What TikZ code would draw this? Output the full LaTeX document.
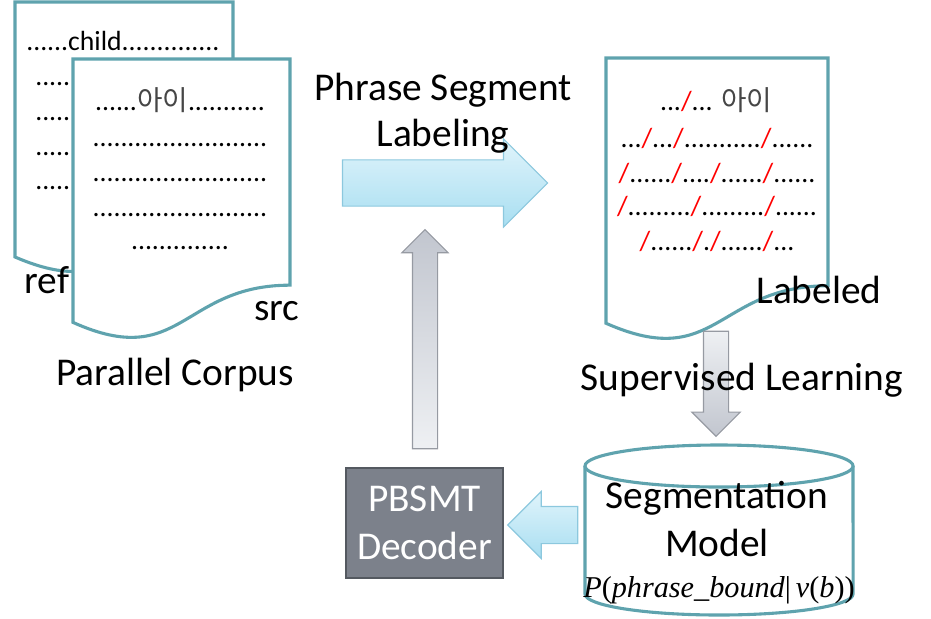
\documentclass[tikz,border=0pt]{standalone}
\usepackage{fontspec}
\setmainfont{Carlito}
\newfontfamily\krfont{Noto Sans CJK KR}
\newfontfamily\timesfont{Liberation Serif}
\usetikzlibrary{shapes.arrows,positioning}

\definecolor{docline}{RGB}{95,163,174}
\definecolor{blueedge}{RGB}{140,200,222}
\definecolor{bluetop}{RGB}{224,244,251}
\definecolor{bluebot}{RGB}{168,222,241}
\definecolor{grayedge}{RGB}{150,154,162}
\definecolor{graydark}{RGB}{194,198,207}
\definecolor{graylight}{RGB}{238,240,243}
\definecolor{boxfill}{RGB}{124,129,139}
\definecolor{boxedge}{RGB}{84,89,96}
\definecolor{krgray}{RGB}{70,70,70}

\newcommand\redslash{\textcolor{red}{/}}
\newcommand\kr[1]{{\krfont\color{krgray}#1}}
% document page: left, right, top, height
\newcommand\docpage[4]{%
  \draw[doc] (#1,#3) -- (#2,#3) -- (#2,#3+0.802*#4)
    .. controls ({(#1+#2)/2},#3+0.802*#4) and ({(#1+#2)/2},#3+1.107*#4) .. (#1,#3+0.934*#4) -- cycle;}

\tikzset{
  doc/.style={draw=docline, line width=2.2pt, fill=white},
  big/.style={font=\fontsize{28}{34}\selectfont, inner sep=0pt, anchor=base},
  dots/.style={font=\fontsize{19.7}{24}\selectfont, inner sep=0pt, anchor=base},
  bluearrow/.style={single arrow, draw=blueedge, line width=0.8pt,
    top color=bluetop, bottom color=bluebot},
  grayarrow/.style={single arrow, draw=grayedge, line width=0.8pt},
  decoder/.style={draw=boxedge, line width=1.5pt, fill=boxfill, text=white,
    font=\fontsize{28}{34}\selectfont, align=center,
    minimum width=3.925cm, minimum height=2.75cm},
}

\begin{document}
\begin{tikzpicture}[x=0.025cm, y=-0.025cm]
  \useasboundingbox (0,0) rectangle (931,618);

  % parallel corpus
  \docpage{15}{233}{2}{273}
  \node[dots] (ref1) at (123,50) {......child..............};
  \foreach \y in {85,120,155,189}
    \node[dots, anchor=base west] (ref\y) at (35,\y) {.....};
  \node[big] (ref) at (47,293) {ref};
  \docpage{73}{290}{59}{282}
  \node[dots] (src1) at (180,110) {......\kr{아이}...........};
  \foreach \y in {146,181,216}
    \node[dots] (src\y) at (180,\y) {.........................};
  \node[dots] (src5) at (180,249) {..............};
  \node[big] (src) at (277,320) {src};
  \node[big] (corpus) at (175,385) {Parallel Corpus};

  % labeled corpus
  \docpage{606}{828}{58}{284}
  \node[dots] (lab1) at (716,110) {...\redslash... \kr{아이}};
  \node[dots] (lab2) at (717,147) {...\redslash...\redslash...........\redslash......};
  \node[dots] (lab3) at (717,182) {\redslash......\redslash....\redslash......\redslash......};
  \node[dots] (lab4) at (717,215) {\redslash.........\redslash.........\redslash......};
  \node[dots] (lab5) at (717,250) {\redslash......\redslash.\redslash......\redslash...};
  \node[big] (labeled) at (819,303) {Labeled};

  % segmentation model
  \fill[white] (585,466) rectangle (853,594);
  \draw[doc] (585,466) -- (585,594) arc[start angle=180, end angle=360, x radius=3.35cm, y radius=0.525cm] -- (853,466);
  \draw[doc] (719,466) ellipse [x radius=3.35cm, y radius=0.525cm];
  \node[big] (model1) at (717,508) {Segmentation};
  \node[big] (model2) at (717,556) {Model};
  \node[inner sep=0pt, anchor=base, font=\fontsize{21.5}{26}\selectfont\timesfont] (prob) at (719,597)
    {\itshape P\upshape(\itshape phrase\_bound\upshape|\,\itshape v\upshape(\itshape b\upshape))};

  % decoder
  \node[decoder] (decoder) at (424.5,523) {PBSMT\\Decoder};

  % arrows
  \node[bluearrow, minimum height=5.125cm, inner sep=0.5625cm,
    single arrow head extend=0.525cm] (labeling) at (433.5,183) {};
  \node[big] (phrase) at (443,100) {Phrase Segment};
  \node[big] (labtext) at (443,146) {Labeling};
  \node[grayarrow, shape border rotate=90, top color=graydark, bottom color=graylight,
    minimum height=5.475cm, inner sep=0.3cm,
    single arrow head extend=0.2625cm] (feedback) at (425,345.5) {};
  \node[grayarrow, shape border rotate=270, top color=graylight, bottom color=graydark,
    minimum height=2.625cm, inner sep=0.3cm,
    single arrow head extend=0.29cm] (learning) at (716,377.5) {};
  \node[big] (suptext) at (742,390) {Supervised Learning};
  \node[bluearrow, shape border rotate=180, minimum height=1.75cm, inner sep=0.45cm,
    single arrow head extend=0.375cm] (decode) at (552,525) {};
\end{tikzpicture}
\end{document}
